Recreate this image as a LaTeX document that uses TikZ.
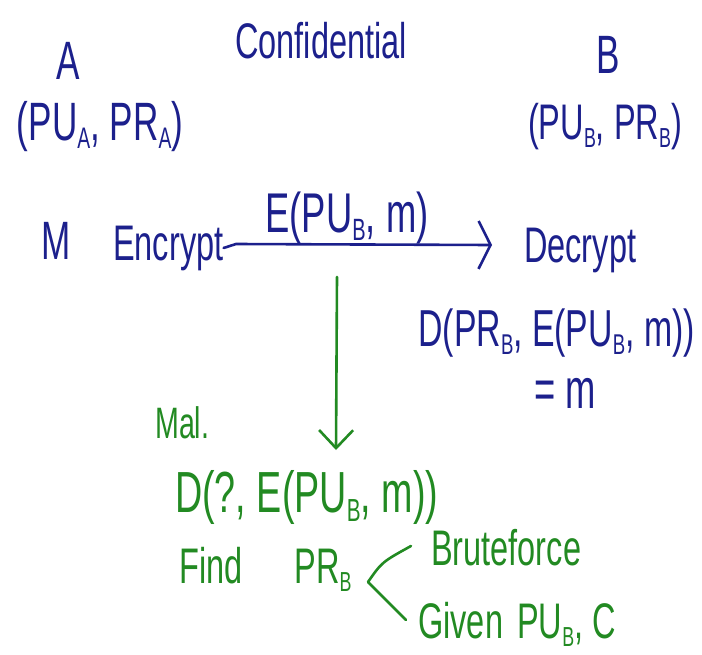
\documentclass[tikz,border=0pt]{standalone}
\usepackage{fontspec}
\usepackage{graphicx}
\setmainfont{Liberation Sans}[FakeStretch=0.65]
\usetikzlibrary{arrows.meta}
\definecolor{handblue}{RGB}{28,32,140}
\definecolor{handgreen}{RGB}{34,138,34}
\newcommand\sbx[1]{\raisebox{-0.16em}{\scalebox{0.55}{#1}}}
\begin{document}
\begin{tikzpicture}[x=1pt,y=-1pt,
  hand/.style={inner sep=0pt, font=\fontsize{50}{60}\selectfont},
  bluetxt/.style={hand, text=handblue},
  greentxt/.style={hand, text=handgreen},
  blueline/.style={draw=handblue, line width=2.6pt, line cap=round, line join=round},
  greenline/.style={draw=handgreen, line width=2.6pt, line cap=round, line join=round}]
\useasboundingbox (0,0) rectangle (702,654);
% blue part
\node[bluetxt, anchor=base] (conf) at (321,58) {Confidential};
\node[bluetxt, anchor=base, font=\fontsize{54}{64}\selectfont] (A) at (68,79) {A};
\node[bluetxt, anchor=base, font=\fontsize{54}{64}\selectfont] (keysA) at (100,140) {(PU\sbx{A}, PR\sbx{A})};
\node[bluetxt, anchor=base, font=\fontsize{54}{64}\selectfont] (B) at (608,73) {B};
\node[bluetxt, anchor=base, font=\fontsize{50}{60}\selectfont] (keysB) at (605,139) {(PU\sbx{B}, PR\sbx{B})};
\node[bluetxt, anchor=base, font=\fontsize{54}{64}\selectfont] (M) at (56,259) {M};
\node[bluetxt, anchor=base west] (enc) at (113,260) {Encrypt};
\node[bluetxt, anchor=base, font=\fontsize{56}{66}\selectfont] (cipher) at (347,232) {E(PU\sbx{B}, m)};
\node[bluetxt, anchor=base west] (dec) at (524,262) {Decrypt};
\node[bluetxt, anchor=base east, font=\fontsize{52}{62}\selectfont] (dform) at (695,346) {D(PR\sbx{B}, E(PU\sbx{B}, m))};
\node[bluetxt, anchor=base, font=\fontsize{56}{66}\selectfont] (res) at (565,408) {= m};
\coordinate (s1) at (236,244);
\coordinate (tip) at (492,245);
\draw[blueline, -{Straight Barb[length=12pt, width=48pt, line width=2.6pt]}] (enc.east) -- (s1) -- (tip);
% green part
\node[greentxt, anchor=base west, font=\fontsize{44}{52}\selectfont] (mal) at (155,438) {Mal.};
\node[greentxt, anchor=base west, font=\fontsize{58}{68}\selectfont] (dq) at (175,512) {D(?, E(PU\sbx{B}, m))};
\node[greentxt, anchor=base west] (find) at (179,583) {Find\hspace{52pt}PR\sbx{B}};
\node[greentxt, anchor=base west] (brute) at (431,565) {Bruteforce};
\node[greentxt, anchor=base west] (given) at (418,638) {Given\hspace{14pt}PU\sbx{B}, C};
\coordinate (gtop) at (337,277);
\coordinate (gtip) at (336,450);
\draw[greenline, -{Straight Barb[length=18pt, width=34pt, line width=2.6pt]}] (gtop) -- (gtip);
\coordinate (br) at (368,582);
\coordinate (bu) at (411,546);
\coordinate (bl) at (406,620);
\draw[greenline] (br) .. controls (382,562) .. (bu);
\draw[greenline] (br) -- (bl);
\end{tikzpicture}
\end{document}
